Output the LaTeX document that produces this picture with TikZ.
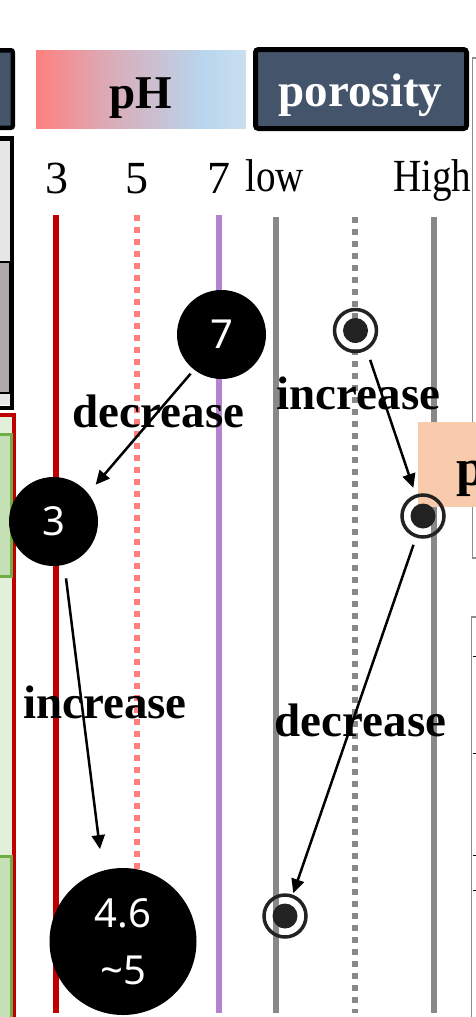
\documentclass[tikz,border=0pt]{standalone}
\usepackage{fontspec}
\setmainfont{Liberation Serif}
\newfontfamily\numfont{Noto Sans}
\usepackage{graphicx}
\usetikzlibrary{arrows.meta}
\definecolor{redl}{HTML}{C00000}
\definecolor{pinkl}{HTML}{FF7F7F}
\definecolor{purpl}{HTML}{B482CE}
\definecolor{grayl}{HTML}{888888}
\definecolor{dblue}{HTML}{44546A}
\definecolor{markc}{HTML}{222222}
\definecolor{lgray}{HTML}{E7E6E6}
\definecolor{dgray}{HTML}{AEAAAA}
\definecolor{lgreen}{HTML}{E2F0D9}
\definecolor{mgreen}{HTML}{C5E0B4}
\definecolor{gborder}{HTML}{70AD47}
\definecolor{rgray}{HTML}{8C8C8C}
\definecolor{peach}{HTML}{F8CBAD}
\definecolor{phpink}{HTML}{FF7F7F}
\definecolor{phblue}{HTML}{B8D6EE}
\definecolor{phlight}{HTML}{C9DFEF}
\pgfdeclarehorizontalshading{phshade}{100bp}{color(0bp)=(phpink); color(25bp)=(phpink); color(40bp)=(phpink!55!phblue); color(65bp)=(phblue); color(75bp)=(phlight); color(100bp)=(phlight)}
\tikzset{
  vline/.style={line width=6pt},
  dotline/.style={line width=6pt, dash pattern=on 6pt off 6pt},
  bigdot/.style={circle, fill=black, inner sep=0pt, minimum size=89pt, text=white, font=\numfont\fontsize{40}{57}\selectfont},
  marker/.style={circle, draw=markc, line width=3.5pt, inner sep=0pt, minimum size=42pt,
    path picture={\fill[markc] (path picture bounding box.center) circle (12.5pt);}},
  arr/.style={-{Triangle[length=14pt,width=13pt]}, line width=2.5pt},
  lbl/.style={font=\bfseries\fontsize{47}{50}\selectfont, anchor=base, inner sep=0pt},
  tick/.style={font=\fontsize{46}{50}\selectfont, anchor=base, inner sep=0pt},
}
\begin{document}
\begin{tikzpicture}[x=1pt,y=-1pt]
\useasboundingbox (0,0) rectangle (476,1017);
\clip (0,0) rectangle (476,1017);
% left boxes
\draw[line width=4.5pt, fill=dblue, rounded corners=2pt] (-10,50.25) rectangle (12.75,127.75);
\fill[lgray] (-10,136) rectangle (12,405);
\fill[dgray] (-10,262) rectangle (10,393);
\draw[line width=1.5pt] (-10,262) -- (10,262) -- (10,393) -- (-10,393);
\draw[line width=4.5pt] (-10,138.25) -- (11.75,138.25) -- (11.75,407.75) -- (-10,407.75);
\draw[redl, line width=4pt, fill=lgreen] (-10,415) rectangle (14,1030);
\draw[gborder, line width=3pt, fill=mgreen] (-10,434.5) rectangle (11.5,576.5);
\draw[gborder, line width=3pt, fill=mgreen] (-10,856.5) rectangle (11.5,1030);
% header boxes
\shade[shading=phshade] (36,50) rectangle (246,128);
\node[lbl] (ph) at (141,108) {pH};
\draw[line width=5pt, fill=dblue, rounded corners=3pt] (255.5,49.5) rectangle (466.5,128.5);
\node[lbl, text=white] (poro) at (360.5,106) {porosity};
% right boxes
\draw[rgray, line width=1.5pt] (472.5,58) rectangle (490,558);
\draw[rgray, line width=1.5pt, fill=white] (471.5,617) rectangle (490,1030);
\foreach \yy in {656,753,855,890} \draw[line width=1pt] (473,\yy) -- (477,\yy);
% vertical lines
\draw[redl, vline] (56,215) -- (56,1013);
\draw[pinkl, dotline] (137,215) -- (137,1013);
\draw[purpl, vline] (219,215) -- (219,1013);
\draw[grayl, vline] (276,217) -- (276,1013);
\draw[grayl, dotline] (355,217) -- (355,1013);
\draw[grayl, vline] (434,217) -- (434,1013);
% peach box
\fill[peach] (418,422) rectangle (490,507);
\node[font=\bfseries\fontsize{52}{55}\selectfont, anchor=base west, inner sep=0pt] (pp) at (456,485) {p};
% scale labels
\node[tick] (t3) at (57,193) {3};
\node[tick] (t5) at (137,193) {5};
\node[tick] (t7) at (219,193) {7};
\node[tick, anchor=base west] (tlow) at (245,191) {\scalebox{0.85}[1]{low}};
\node[tick, anchor=base west] (thigh) at (393,191) {\scalebox{0.85}[1]{High}};
% circles
\node[bigdot] (c7) at (221.5,334.5) {7};
\node[bigdot] (c3) at (53.5,521.5) {3};
\node[bigdot, minimum size=147pt, align=center] (c46) at (123,941.5) {4.6\\\textasciitilde5};
\node[marker] (m1) at (355.5,330.5) {};
\node[marker] (m2) at (423,516) {};
\node[marker] (m3) at (285,916) {};
% arrows
\draw[arr, shorten <=5.2pt, shorten >=11.4pt] (c7.232.3) -- (c3.39.2);
\draw[arr, shorten <=10.2pt, shorten >=7pt] (m1.300.1) -- (m2.109.7);
\draw[arr, shorten <=13.6pt, shorten >=21.7pt] (c3.284.4) -- (c46.106.4);
\draw[arr, shorten <=7.6pt, shorten >=1.6pt] (m2.252.8) -- (m3.70.8);
% labels
\node[lbl] (dec1) at (158.5,427) {decrease};
\node[lbl] (inc1) at (358.5,409) {increase};
\node[lbl] (inc2) at (105,718) {increase};
\node[lbl] (dec2) at (360.5,736) {decrease};
\end{tikzpicture}
\end{document}
